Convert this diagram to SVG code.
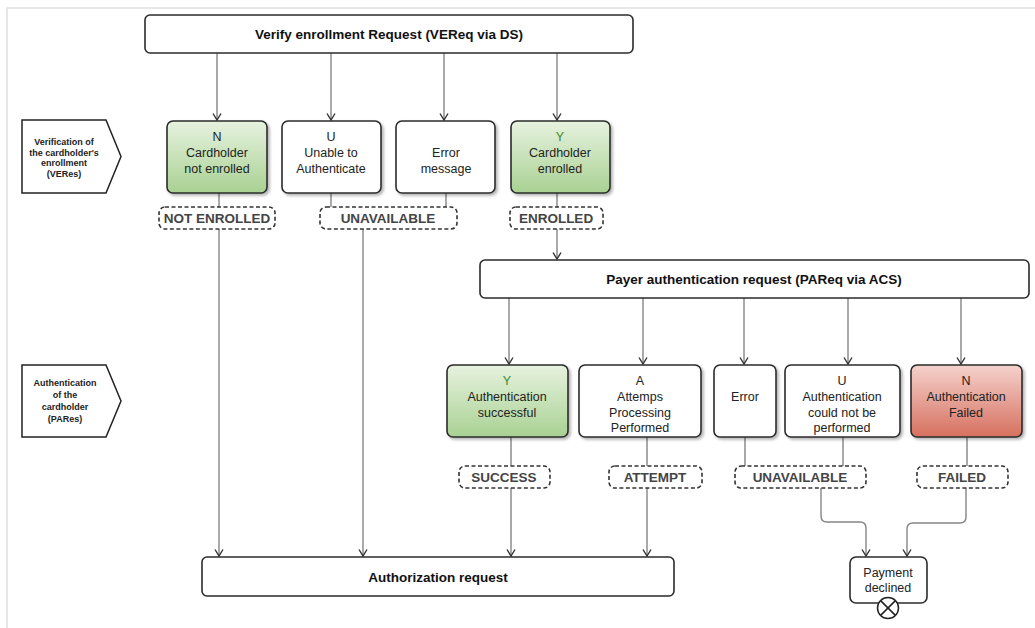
<svg xmlns="http://www.w3.org/2000/svg" width="1035" height="628" viewBox="0 0 1035 628">
<style>
  .box{fill:#fff;stroke:#2b2b2b;stroke-width:1.6}
  .sh{filter:url(#shadow)}
  .green{fill:url(#gGreen)}
  .red{fill:url(#gRed)}
  .lbl{fill:#fff;stroke:#333;stroke-width:1.6;stroke-dasharray:4 2.5}
  .t{font-family:"Liberation Sans",Arial,sans-serif;font-size:12.5px;fill:#222;text-anchor:middle}
  .tb{font-family:"Liberation Sans",Arial,sans-serif;font-size:13.5px;font-weight:bold;fill:#111;text-anchor:middle}
  .tl{font-family:"Liberation Sans",Arial,sans-serif;font-size:13.5px;font-weight:bold;fill:#444;text-anchor:middle}
  .ts{font-family:"Liberation Sans",Arial,sans-serif;font-size:9px;font-weight:bold;fill:#222;text-anchor:middle}
  .gy{fill:#3f8a2e}
  .c{fill:none;stroke:#858585;stroke-width:1.4}
  .ca{fill:none;stroke:#858585;stroke-width:1.4;marker-end:url(#arr)}
  .frame{stroke:#e0e0e0;stroke-width:1.5;fill:none}
</style>
<defs>
  <linearGradient id="gGreen" x1="0" y1="0" x2="0" y2="1">
    <stop offset="0" stop-color="#e6f2df"/>
    <stop offset="1" stop-color="#a9d192"/>
  </linearGradient>
  <linearGradient id="gRed" x1="0" y1="0" x2="0" y2="1">
    <stop offset="0" stop-color="#f5d2cc"/>
    <stop offset="1" stop-color="#d6705f"/>
  </linearGradient>
  <filter id="shadow" x="-10%" y="-10%" width="130%" height="130%">
    <feDropShadow dx="2" dy="2" stdDeviation="1.5" flood-color="#000" flood-opacity="0.3"/>
  </filter>
  <marker id="arr" viewBox="0 0 8 10" refX="7.5" refY="5" markerWidth="8" markerHeight="10" markerUnits="userSpaceOnUse" orient="auto">
    <path d="M1,1 L7.5,5 L1,9" fill="none" stroke="#333" stroke-width="1.4"/>
  </marker>
</defs>

<rect width="1035" height="628" fill="#fff"/>
<path class="frame" d="M7,628 V8 H1035"/>

<g id="connectors">
  <path class="ca" d="M217,53 V120"/>
  <path class="ca" d="M331,53 V120"/>
  <path class="ca" d="M444,53 V120"/>
  <path class="ca" d="M557,53 V120"/>
  <path class="c" d="M219,193 V207"/>
  <path class="c" d="M331,193 V207"/>
  <path class="c" d="M446,193 V207"/>
  <path class="c" d="M557,193 V207"/>
  <path class="ca" d="M219,229 V556"/>
  <path class="ca" d="M363,229 V556"/>
  <path class="ca" d="M557,229 V259"/>
  <path class="ca" d="M509,298 V364"/>
  <path class="ca" d="M643,298 V364"/>
  <path class="ca" d="M744,298 V364"/>
  <path class="ca" d="M848,298 V364"/>
  <path class="ca" d="M961,298 V364"/>
  <path class="c" d="M511,437 V466"/>
  <path class="c" d="M647,437 V466"/>
  <path class="c" d="M745,437 V466"/>
  <path class="c" d="M843,437 V466"/>
  <path class="c" d="M967,437 V466"/>
  <path class="ca" d="M511,488 V556"/>
  <path class="ca" d="M647,488 V556"/>
  <path class="ca" d="M821,488 V516 Q821,522 827,522 H860 Q866,522 866,528 V556"/>
  <path class="ca" d="M966,488 V517 Q966,523 960,523 H913 Q907,523 907,529 V556"/>
</g>

<g id="verify-request">
  <rect class="box" x="145" y="15" width="488" height="38" rx="5"/>
  <text class="tb" x="389" y="39">Verify enrollment Request (VEReq via DS)</text>
</g>

<g id="lane-veres">
  <path d="M22,120 H106 L121,156.5 L106,193 H22 Z" fill="#fff" stroke="#222" stroke-width="1.5"/>
  <text class="ts" x="64" y="145">Verification of</text>
  <text class="ts" x="64" y="155.5">the cardholder's</text>
  <text class="ts" x="64" y="166">enrollment</text>
  <text class="ts" x="64" y="176.5">(VERes)</text>
</g>

<g id="n-not-enrolled">
  <rect class="box green sh" x="167" y="121" width="100" height="72" rx="6"/>
  <text class="t" x="217" y="141">N</text>
  <text class="t" x="217" y="157">Cardholder</text>
  <text class="t" x="217" y="173">not enrolled</text>
</g>
<g id="u-unable">
  <rect class="box sh" x="282" y="121" width="99" height="72" rx="6"/>
  <text class="t" x="331" y="141">U</text>
  <text class="t" x="331" y="157">Unable to</text>
  <text class="t" x="331" y="173">Authenticate</text>
</g>
<g id="error-message">
  <rect class="box sh" x="396" y="121" width="99" height="72" rx="6"/>
  <text class="t" x="446" y="157">Error</text>
  <text class="t" x="446" y="173">message</text>
</g>
<g id="y-enrolled">
  <rect class="box green sh" x="511" y="121" width="99" height="72" rx="6"/>
  <text class="t gy" x="560" y="141">Y</text>
  <text class="t" x="560" y="157">Cardholder</text>
  <text class="t" x="560" y="173">enrolled</text>
</g>

<g id="lbl-not-enrolled">
  <rect class="lbl" x="159" y="207" width="116" height="22" rx="6"/>
  <text class="tl" x="217" y="223">NOT ENROLLED</text>
</g>
<g id="lbl-unavailable-1">
  <rect class="lbl" x="320" y="207" width="137" height="22" rx="6"/>
  <text class="tl" x="388" y="223">UNAVAILABLE</text>
</g>
<g id="lbl-enrolled">
  <rect class="lbl" x="510" y="207" width="93" height="22" rx="6"/>
  <text class="tl" x="556" y="223">ENROLLED</text>
</g>

<g id="payer-request">
  <rect class="box" x="480" y="260" width="549" height="38" rx="5"/>
  <text class="tb" x="754" y="284">Payer authentication request (PAReq via ACS)</text>
</g>

<g id="lane-pares">
  <path d="M22,365 H106 L121,401 L106,437 H22 Z" fill="#fff" stroke="#222" stroke-width="1.5"/>
  <text class="ts" x="65" y="386">Authentication</text>
  <text class="ts" x="65" y="398">of the</text>
  <text class="ts" x="65" y="410">cardholder</text>
  <text class="ts" x="65" y="422">(PARes)</text>
</g>

<g id="y-auth-success">
  <rect class="box green sh" x="447" y="365" width="121" height="72" rx="6"/>
  <text class="t gy" x="507" y="385">Y</text>
  <text class="t" x="507" y="401">Authentication</text>
  <text class="t" x="507" y="417">successful</text>
</g>
<g id="a-attempts">
  <rect class="box sh" x="579" y="365" width="122" height="72" rx="6"/>
  <text class="t" x="640" y="385">A</text>
  <text class="t" x="640" y="401">Attemps</text>
  <text class="t" x="640" y="417">Processing</text>
  <text class="t" x="640" y="432">Performed</text>
</g>
<g id="error-2">
  <rect class="box sh" x="714" y="365" width="62" height="72" rx="6"/>
  <text class="t" x="745" y="401">Error</text>
</g>
<g id="u-not-performed">
  <rect class="box sh" x="785" y="365" width="115" height="72" rx="6"/>
  <text class="t" x="842" y="385">U</text>
  <text class="t" x="842" y="401">Authentication</text>
  <text class="t" x="842" y="417">could not be</text>
  <text class="t" x="842" y="432">performed</text>
</g>
<g id="n-auth-failed">
  <rect class="box red sh" x="911" y="365" width="111" height="72" rx="6"/>
  <text class="t" x="966" y="385">N</text>
  <text class="t" x="966" y="401">Authentication</text>
  <text class="t" x="966" y="417">Failed</text>
</g>

<g id="lbl-success">
  <rect class="lbl" x="459" y="466" width="91" height="22" rx="6"/>
  <text class="tl" x="504" y="482">SUCCESS</text>
</g>
<g id="lbl-attempt">
  <rect class="lbl" x="609" y="466" width="93" height="22" rx="6"/>
  <text class="tl" x="655" y="482">ATTEMPT</text>
</g>
<g id="lbl-unavailable-2">
  <rect class="lbl" x="735" y="466" width="131" height="22" rx="6"/>
  <text class="tl" x="800" y="482">UNAVAILABLE</text>
</g>
<g id="lbl-failed">
  <rect class="lbl" x="917" y="466" width="91" height="22" rx="6"/>
  <text class="tl" x="962" y="482">FAILED</text>
</g>

<g id="authorization-request">
  <rect class="box" x="202" y="557" width="472" height="39" rx="5"/>
  <text class="tb" x="438" y="582">Authorization request</text>
</g>

<g id="payment-declined">
  <rect class="box" x="850" y="557" width="77" height="46" rx="6"/>
  <text class="t" x="888" y="577">Payment</text>
  <text class="t" x="888" y="592">declined</text>
  <circle cx="888" cy="608" r="10.5" fill="#fff" stroke="#222" stroke-width="1.5"/>
  <path d="M880.6,600.6 L895.4,615.4 M895.4,600.6 L880.6,615.4" stroke="#222" stroke-width="1.5"/>
</g>
</svg>
